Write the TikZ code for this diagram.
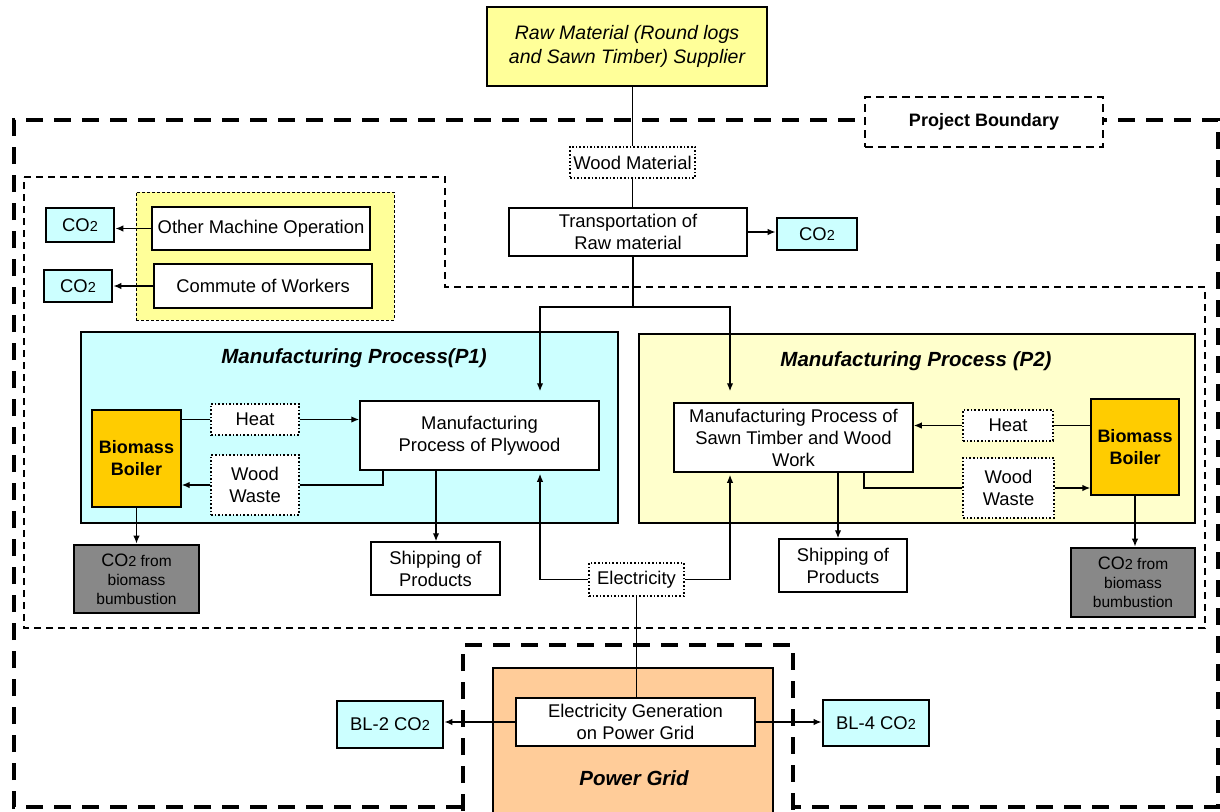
\documentclass[tikz,border=0pt]{standalone}
\usepackage{fontspec}
\setmainfont{Liberation Sans}
\usetikzlibrary{arrows.meta}

\definecolor{cyanfill}{HTML}{CCFFFF}
\definecolor{paleyellow}{HTML}{FFFF99}
\definecolor{creamfill}{HTML}{FFFFCC}
\definecolor{boilerfill}{HTML}{FFCC00}
\definecolor{gridfill}{HTML}{FFCC99}
\definecolor{emitgray}{HTML}{888888}

\newcommand{\cotwo}{CO{\fontsize{14.5}{14.5}\selectfont 2}}

\tikzset{
  sz/.style 2 args={minimum width=#1pt, minimum height=#2pt},
  base/.style={draw, align=center, inner sep=0pt, font=\fontsize{18.4}{22}\selectfont},
  plain/.style={base, fill=white, line width=1.5pt},
  dotbox/.style={base, fill=white, line width=1.6pt, dotted},
  co2box/.style={base, fill=cyanfill, line width=2.8pt},
  emit/.style={base, fill=emitgray, line width=2.8pt, font=\fontsize{15.5}{19}\selectfont},
  boiler/.style={base, fill=boilerfill, line width=1.4pt, font=\bfseries\fontsize{18}{22}\selectfont},
  procarea/.style={draw, line width=1.8pt, inner sep=0pt},
  title/.style={font=\bfseries\itshape\fontsize{20.5}{24}\selectfont},
  arr/.style={line width=1.4pt, -{Latex[length=8pt,width=6.5pt]}},
  link/.style={line width=1.4pt},
  bigdash/.style={line width=3.5pt, dash pattern=on 17pt off 11pt},
  smalldash/.style={line width=1.5pt, dash pattern=on 7pt off 5pt},
}

\begin{document}
\begin{tikzpicture}[x=1pt, y=-1pt]
\useasboundingbox (0,0) rectangle (1220,811);

% project boundary (outer) and on-site boundary (inner)
\draw[bigdash] (463,807) -- (14,807) -- (14,120) -- (1218,120) -- (1218,807) -- (793,807);
\draw[smalldash] (24,177) -- (445,177) -- (445,287) -- (1205,287) -- (1205,628) -- (24,628) -- cycle;
\node[draw, fill=white, line width=2pt, dash pattern=on 8pt off 5pt, sz={238}{50},
      font=\bfseries\fontsize{18}{22}\selectfont] (pb) at (984,122) {Project Boundary};

% power grid boundary
\draw[bigdash] (463,811) -- (463,645) -- (793,645) -- (793,811);

% supplier and transport
\node[base, fill=paleyellow, line width=1.4pt, sz={280}{79},
      font=\itshape\fontsize{19.5}{23.5}\selectfont] (raw) at (627,46.5)
      {Raw Material (Round logs\\and Sawn Timber) Supplier};
\node[dotbox, sz={125}{31}] (wood) at (632.5,162.5) {Wood Material};
\node[plain, sz={238}{48}] (trans) at (628,232) {Transportation of\\Raw material};
\node[co2box, sz={80}{32}] (co2t) at (817,234) {\cotwo};

% other on-site sources
\node[draw, fill=paleyellow, line width=1pt, dash pattern=on 3pt off 2pt, sz={258}{128}] (others) at (265,256) {};
\node[plain, sz={218}{43}] (other) at (261,228.5) {Other Machine Operation};
\node[plain, sz={218}{44}] (commute) at (263,286) {Commute of Workers};
\node[co2box, sz={68}{34}] (co2a) at (80,225) {\cotwo};
\node[co2box, sz={68}{32}] (co2b) at (78,286) {\cotwo};

% process P1
\node[procarea, fill=cyanfill, sz={537}{191}] (p1) at (349.5,427.5) {};
\node[title] (p1t) at (354,358) {Manufacturing Process(P1)};
\node[boiler, sz={89}{97}] (boilerA) at (136.5,458.5) {Biomass\\Boiler};
\node[dotbox, sz={88}{31}] (heatA) at (255,419.5) {Heat};
\node[dotbox, sz={88}{60}] (wasteA) at (255,485) {Wood\\Waste};
\node[plain, sz={239}{69}] (plywood) at (479.5,435.5) {Manufacturing\\Process of Plywood};
\node[emit, sz={125}{68}] (co2gA) at (136.5,579)
      {{\fontsize{18}{19}\selectfont CO{\fontsize{14.5}{14.5}\selectfont 2}} from\\biomass\\bumbustion};
\node[plain, sz={129}{53}] (shipA) at (435.5,568.5) {Shipping of\\Products};
\node[dotbox, sz={95}{33}] (elec) at (636.5,579.5) {Electricity};

% process P2
\node[procarea, fill=creamfill, sz={556}{189}] (p2) at (917,428.5) {};
\node[title] (p2t) at (916,361) {Manufacturing Process (P2)};
\node[plain, sz={239}{69}] (sawn) at (793.5,437.5) {Manufacturing Process of\\Sawn Timber and Wood\\Work};
\node[dotbox, sz={90}{31}] (heatB) at (1008,425.5) {Heat};
\node[dotbox, sz={91}{60}] (wasteB) at (1008.5,488) {Wood\\Waste};
\node[boiler, sz={88}{96}] (boilerB) at (1135,447) {Biomass\\Boiler};
\node[plain, sz={128}{53}] (shipB) at (843,565.5) {Shipping of\\Products};
\node[emit, sz={124}{69}] (co2gB) at (1133,582.5)
      {{\fontsize{18}{19}\selectfont CO{\fontsize{14.5}{14.5}\selectfont 2}} from\\biomass\\bumbustion};

% power grid
\node[draw, fill=gridfill, line width=1.4pt, sz={280}{147}] (grid) at (633,741.5) {};
\node[title] (gridt) at (634,778) {Power Grid};
\node[plain, sz={239}{48}] (gen) at (635.5,722) {Electricity Generation\\on Power Grid};
\node[co2box, sz={106}{47}] (bl2) at (390,724.5) {BL-2 \cotwo};
\node[co2box, sz={106}{46}] (bl4) at (876,723) {BL-4 \cotwo};

% branch points
\coordinate (split) at (633,307);
\coordinate (xa) at (540,0);
\coordinate (xb) at (730,0);
\coordinate (xw1) at (383,0);
\coordinate (xs1) at (436,0);
\coordinate (xw2) at (864,0);
\coordinate (xs2) at (838,0);

% material flow
\draw[link] (wood.north) -- (wood.north |- raw.south);
\draw[link] (wood.south) -- (wood.south |- trans.north);
\draw[link] (trans.south -| split) -- (split);
\draw[arr, shorten >=9pt] (split) -| (plywood.north -| xa);
\draw[arr, shorten >=11pt] (split) -| (sawn.north -| xb);
\draw[arr] (trans.east) -- (trans.east -| co2t.west);
\draw[arr] (other.west) -- (other.west -| co2a.east);
\draw[arr] (commute.west) -- (commute.west -| co2b.east);

% P1 flows
\draw[link] (boilerA.east |- heatA.west) -- (heatA.west);
\draw[arr] (heatA.east) -- (heatA.east -| plywood.west);
\draw[link] (plywood.south -| xw1) |- (wasteA.east);
\draw[arr] (wasteA.west) -- (wasteA.west -| boilerA.east);
\draw[arr] (boilerA.south) -- (boilerA.south |- co2gA.north);
\draw[arr] (plywood.south -| xs1) -- (shipA.north -| xs1);

% P2 flows
\draw[link] (boilerB.west |- heatB.east) -- (heatB.east);
\draw[arr] (heatB.west) -- (heatB.west -| sawn.east);
\draw[link] (sawn.south -| xw2) |- (wasteB.west);
\draw[arr] (wasteB.east) -- (wasteB.east -| boilerB.west);
\draw[arr] (boilerB.south) -- (boilerB.south |- co2gB.north);
\draw[arr] (sawn.south -| xs2) -- (shipB.north -| xs2);

% electricity supply
\draw[arr, shorten >=3pt] (elec.west) -| (plywood.south -| xa);
\draw[arr, shorten >=2pt] (elec.east) -| (sawn.south -| xb);
\draw[link] (elec.south) -- (elec.south |- gen.north);
\draw[arr] (gen.west) -- (gen.west -| bl2.east);
\draw[arr] (gen.east) -- (gen.east -| bl4.west);
\end{tikzpicture}
\end{document}
